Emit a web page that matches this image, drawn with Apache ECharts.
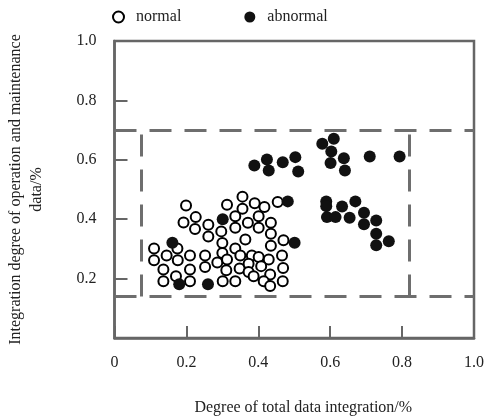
<!DOCTYPE html>
<html>
<head>
<meta charset="utf-8">
<script src="https://cdn.jsdelivr.net/npm/echarts@6/dist/echarts.min.js"></script>
<style>
  html, body { margin: 0; padding: 0; background: #fff; }
  #chart { width: 490px; height: 419px; }
</style>
</head>
<body>
<div id="chart"></div>
<script>
// points: [x, y]
const normalPoints = [
  [0.199, 0.446], [0.313, 0.449], [0.356, 0.476], [0.390, 0.454], [0.417, 0.441], [0.454, 0.458],
  [0.226, 0.407], [0.356, 0.435], [0.336, 0.410], [0.401, 0.410], [0.192, 0.389], [0.224, 0.367],
  [0.261, 0.381], [0.297, 0.359], [0.336, 0.371], [0.371, 0.388], [0.401, 0.371], [0.435, 0.388],
  [0.261, 0.342], [0.435, 0.351], [0.300, 0.320], [0.364, 0.332], [0.435, 0.311], [0.470, 0.329],
  [0.110, 0.301], [0.175, 0.301], [0.145, 0.278], [0.110, 0.262], [0.176, 0.262], [0.210, 0.278],
  [0.252, 0.278], [0.252, 0.239], [0.300, 0.286], [0.286, 0.254], [0.313, 0.264], [0.336, 0.301],
  [0.350, 0.278], [0.382, 0.278], [0.401, 0.273], [0.429, 0.264], [0.466, 0.278], [0.136, 0.231],
  [0.210, 0.231], [0.171, 0.208], [0.311, 0.228], [0.348, 0.234], [0.373, 0.250], [0.408, 0.242],
  [0.469, 0.236], [0.373, 0.222], [0.387, 0.208], [0.433, 0.214], [0.136, 0.191], [0.210, 0.191],
  [0.301, 0.191], [0.336, 0.191], [0.415, 0.191], [0.433, 0.175], [0.468, 0.191]
];
const abnormalPoints = [
  [0.389, 0.581], [0.424, 0.601], [0.429, 0.564], [0.468, 0.592], [0.503, 0.609], [0.511, 0.561],
  [0.578, 0.654], [0.610, 0.671], [0.603, 0.628], [0.601, 0.589], [0.638, 0.605], [0.641, 0.564],
  [0.710, 0.611], [0.793, 0.611], [0.482, 0.460], [0.301, 0.400], [0.501, 0.321], [0.589, 0.460],
  [0.589, 0.444], [0.633, 0.443], [0.670, 0.460], [0.694, 0.422], [0.728, 0.396], [0.591, 0.407],
  [0.615, 0.407], [0.654, 0.405], [0.694, 0.383], [0.728, 0.351], [0.763, 0.326], [0.728, 0.312],
  [0.161, 0.321], [0.180, 0.181], [0.260, 0.181]
];
// dashed guide box: pairs of [start, end]
const guideLines = [
  [[0, 0.7], [1, 0.7]],
  [[0, 0.14], [1, 0.14]],
  [[0.074, 0.14], [0.074, 0.7]],
  [[0.82, 0.14], [0.82, 0.7]]
];
const seriesNames = ["normal", "abnormal"];
const xTitle = "Degree of total data integration/%";
const yTitle = "Integration degree of operation and maintenance\ndata/%";

const font = "Liberation Serif";
const axisGray = "#666";

const chart = echarts.init(document.getElementById("chart"));
const option = {
  animation: false,
  legend: {
    top: 4,
    left: 107,
    itemWidth: 11,
    itemHeight: 11,
    itemGap: 63,
    textStyle: { fontFamily: font, fontSize: 16, color: "#222", padding: [0, 0, 0, 7] },
    data: [
      { name: seriesNames[0], icon: "circle" },
      { name: seriesNames[1], icon: "circle" }
    ]
  },
  grid: {
    left: 114.5,
    right: 16,
    top: 41,
    bottom: 81,
    outerBoundsMode: "none",
    show: true,
    borderColor: axisGray,
    borderWidth: 2.5
  },
  xAxis: {
    type: "value",
    min: 0,
    max: 1,
    interval: 0.2,
    name: xTitle,
    nameLocation: "middle",
    nameGap: 62,
    nameTextStyle: { fontFamily: font, fontSize: 16, color: "#222", padding: [0, 0, 0, 18] },
    axisLine: { lineStyle: { color: axisGray, width: 2.5 } },
    axisTick: { inside: true, length: 12, lineStyle: { color: axisGray, width: 2 } },
    axisLabel: {
      fontFamily: font, fontSize: 16, color: "#222", margin: 17,
      formatter: (v) => (v === 0 ? "0" : v.toFixed(1))
    },
    splitLine: { show: false }
  },
  yAxis: {
    type: "value",
    min: 0,
    max: 1,
    interval: 0.2,
    name: yTitle,
    nameLocation: "middle",
    nameGap: 67,
    nameTextStyle: { fontFamily: font, fontSize: 16, color: "#222", lineHeight: 21 },
    axisLine: { lineStyle: { color: axisGray, width: 2.5 } },
    axisTick: { inside: true, length: 13, lineStyle: { color: axisGray, width: 2 } },
    axisLabel: {
      fontFamily: font, fontSize: 16, color: "#222", margin: 18,
      formatter: (v) => (v === 0 ? "" : v.toFixed(1))
    },
    splitLine: { show: false }
  },
  series: [
    {
      name: seriesNames[0],
      type: "scatter",
      symbol: "circle",
      symbolSize: 10,
      z: 3,
      itemStyle: { color: "#fff", borderColor: "#000", borderWidth: 2, opacity: 1 },
      data: normalPoints,
      markLine: {
        silent: true,
        symbol: "none",
        z: 1,
        label: { show: false },
        lineStyle: { color: "#6e6e6e", width: 3, type: [22, 13], cap: "butt" },
        emphasis: { disabled: true },
        data: guideLines.map(([a, b]) => [{ coord: a }, { coord: b }])
      }
    },
    {
      name: seriesNames[1],
      type: "scatter",
      symbol: "circle",
      symbolSize: 12,
      z: 4,
      itemStyle: { color: "#111", opacity: 1 },
      data: abnormalPoints
    }
  ]
};
chart.setOption(option);
</script>
</body>
</html>
